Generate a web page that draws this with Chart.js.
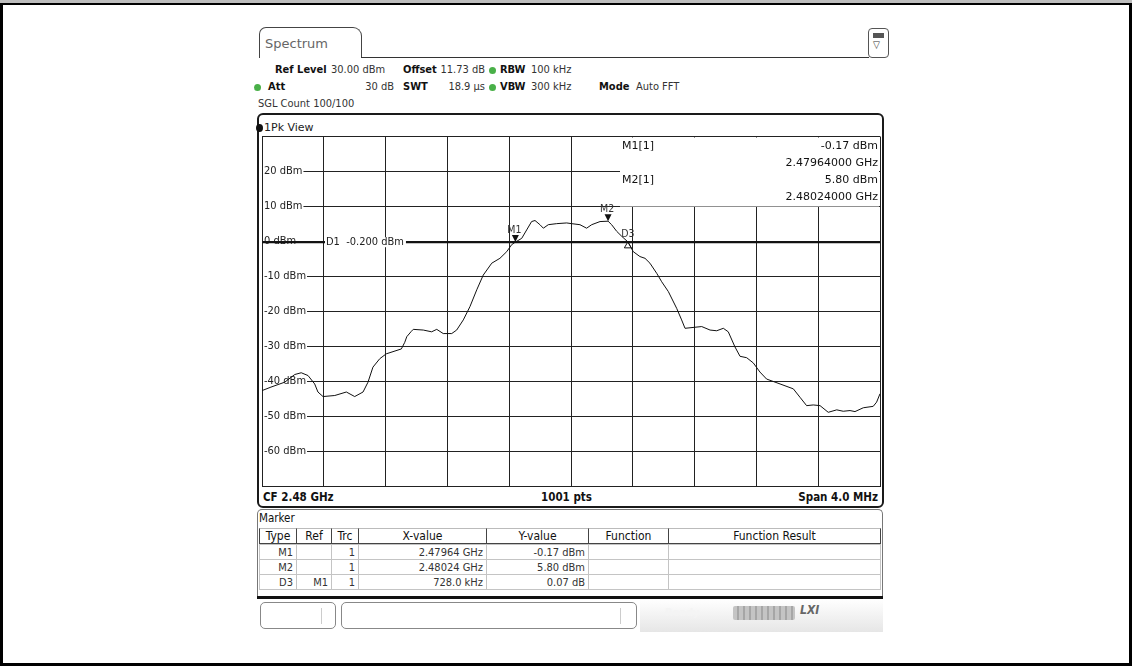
<!DOCTYPE html>
<html>
<head>
<meta charset="utf-8">
<script src="https://cdn.jsdelivr.net/npm/chart.js@4.4.1/dist/chart.umd.min.js"></script>
<style>
  html, body { margin: 0; padding: 0; background: #fff; }
  body {
    width: 1132px; height: 666px; position: relative; overflow: hidden;
    font-family: "DejaVu Sans Condensed", "DejaVu Sans", sans-serif;
    font-stretch: condensed; color: #222;
  }
  .abs { position: absolute; white-space: nowrap; }
  .b { font-weight: bold; color: #111; }
  .hdr { font-size: 11px; line-height: 14px; color: #333; }
  .dot { position: absolute; width: 7px; height: 7px; border-radius: 50%; background: #49b048; }
  .cell { position: absolute; box-sizing: border-box; font-size: 11px; line-height: 15px; overflow: hidden; }
  #chart { position: absolute; left: 0; top: 0; z-index: 2; }
</style>
</head>
<body>
<!-- outer frame -->
<div class="abs" style="left:0;top:0;width:1132px;height:3px;background:#bdbdbd"></div>
<div class="abs" style="left:0;top:3px;width:1132px;height:663px;box-sizing:border-box;border:3px solid #000;border-top:2px solid #000"></div>

<!-- tab -->
<div class="abs" style="left:259px;top:27px;width:103px;height:31px;box-sizing:border-box;border:1px solid #444;border-bottom:none;border-radius:7px 9px 0 0"></div>
<div class="abs" style="left:265px;top:36px;font-family:'DejaVu Sans';font-stretch:normal;font-size:13px;color:#666">Spectrum</div>
<div class="abs" style="left:361px;top:57px;width:508px;height:1px;background:#333"></div>
<div class="abs" style="left:868px;top:28px;width:21px;height:30px;box-sizing:border-box;border:1px solid #555;border-radius:4px"></div>
<div class="abs" style="left:873px;top:33px;width:11px;height:5px;background:#555"></div>
<div class="abs" style="left:873px;top:39px;font-size:10px;color:#333;font-family:'DejaVu Sans'">&#9661;</div>

<!-- header settings -->
<div id="header"></div>

<!-- diagram panel -->
<div class="abs" style="left:257px;top:113px;width:627px;height:395px;box-sizing:border-box;border:2px solid #1a1a1a;border-radius:6px"></div>
<div class="abs" style="left:256px;top:124px;width:7px;height:8px;border-radius:50%;background:#111"></div>
<div class="abs" style="left:264px;top:121px;font-family:'DejaVu Sans';font-stretch:normal;font-size:11px;line-height:14px;color:#222">1Pk View</div>
<div class="abs b" style="left:263px;top:490px;font-size:11.5px;line-height:15px">CF 2.48 GHz</div>
<div class="abs b" style="left:541px;top:490px;font-size:11.5px;line-height:15px">1001 pts</div>
<div class="abs b" style="right:254px;top:490px;font-size:11.5px;line-height:15px">Span 4.0 MHz</div>

<!-- marker table panel -->
<div class="abs" style="left:257px;top:509px;width:626px;height:89px;box-sizing:border-box;border:1px solid #777;border-bottom:none;border-radius:5px 5px 0 0"></div>
<div class="abs" style="left:257px;top:596px;width:626px;height:3px;background:#111"></div>
<div class="abs" style="left:259px;top:511px;font-size:11.5px;line-height:14px;color:#111">Marker</div>
<div id="table"></div>

<!-- status bar -->
<div class="abs" style="left:260px;top:602px;width:76px;height:27px;box-sizing:border-box;border:1px solid #888;border-radius:5px"></div>
<div class="abs" style="left:321px;top:608px;width:1px;height:16px;background:#ccc"></div>
<div class="abs" style="left:341px;top:602px;width:296px;height:27px;box-sizing:border-box;border:1px solid #888;border-radius:5px"></div>
<div class="abs" style="left:620px;top:608px;width:1px;height:16px;background:#ccc"></div>
<div class="abs" style="left:640px;top:599px;width:243px;height:33px;background:linear-gradient(#ffffff,#e6e6e6)"></div>
<div class="abs" style="left:665px;top:606px;font-size:11px;font-weight:bold;color:#f4f4f4">Ready</div>
<div class="abs" style="left:733px;top:606px;width:62px;height:14px;background:repeating-linear-gradient(90deg,#c4c4c4 0 4px,#a6a6a6 4px 6px);border-radius:2px"></div>
<div class="abs" style="left:800px;top:603px;font-size:12px;font-weight:bold;font-style:italic;color:#666">LXI</div>

<canvas id="chart" width="1132" height="666"></canvas>

<script>
// trace 1, peak detector (frequency in MHz, level in dBm)
const freqMHz = [
  2478.000, 2478.058, 2478.147, 2478.212, 2478.254, 2478.298, 2478.341, 2478.362,
  2478.395, 2478.471, 2478.546, 2478.600, 2478.654, 2478.686, 2478.718, 2478.762,
  2478.804, 2478.902, 2478.924, 2478.937, 2478.966, 2478.979, 2479.044, 2479.098,
  2479.131, 2479.173, 2479.228, 2479.260, 2479.303, 2479.346, 2479.390, 2479.432,
  2479.487, 2479.540, 2479.584, 2479.616, 2479.640, 2479.681, 2479.713, 2479.745,
  2479.767, 2479.799, 2479.821, 2479.853, 2479.907, 2479.972, 2480.004, 2480.058,
  2480.101, 2480.134, 2480.188, 2480.240, 2480.263, 2480.296, 2480.328, 2480.368,
  2480.403, 2480.446, 2480.479, 2480.511, 2480.555, 2480.587, 2480.630, 2480.684,
  2480.716, 2480.738, 2480.802, 2480.846, 2480.900, 2480.943, 2480.986, 2481.018,
  2481.061, 2481.094, 2481.137, 2481.180, 2481.223, 2481.266, 2481.353, 2481.439,
  2481.482, 2481.525, 2481.568, 2481.612, 2481.665, 2481.720, 2481.762, 2481.806,
  2481.838, 2481.892, 2481.956, 2481.978, 2482.000
];
const levelDbm = [
  -42.6, -41.6, -40.2, -38.0, -37.5, -38.3, -40.7, -43.0,
  -44.3, -44.0, -43.0, -44.3, -43.0, -40.2, -35.9, -33.5,
  -32.1, -30.7, -28.8, -27.2, -25.7, -25.1, -25.3, -25.8,
  -25.1, -26.3, -26.3, -25.3, -22.4, -18.6, -13.8, -9.6,
  -6.2, -4.8, -2.9, -0.9, -0.17, 0.9, 3.3, 5.7,
  6.0, 4.8, 3.8, 4.8, 5.1, 5.3, 5.1, 4.8,
  3.8, 4.8, 5.7, 5.8, 4.8, 2.9, 1.5, -0.10,
  -2.9, -4.3, -4.8, -6.2, -9.1, -11.5, -14.3, -19.1,
  -22.4, -24.8, -24.5, -24.3, -25.3, -25.5, -24.8, -25.8,
  -30.1, -32.8, -33.2, -34.7, -37.3, -39.3, -40.7, -42.1,
  -44.5, -46.9, -46.7, -46.9, -48.8, -48.1, -48.5, -48.3,
  -48.6, -47.5, -47.1, -45.9, -43.5
];

// grid
const xGridMHz = [2478.0, 2478.4, 2478.8, 2479.2, 2479.6, 2480.0, 2480.4, 2480.8, 2481.2, 2481.6, 2482.0];
const yGridDbm = [30, 20, 10, 0, -10, -20, -30, -40, -50, -60, -70];
const yLabelDbm = [20, 10, 0, -10, -20, -30, -40, -50, -60];
const displayLineD1 = -0.2;

// markers
const markerNames = ["M1", "M2", "D3"];
const markerFreqMHz = [2479.64, 2480.24, 2480.368];
const markerLevel = [-0.17, 5.80, -0.10];

// marker table
const tableHeaders = ["Type", "Ref", "Trc", "X-value", "Y-value", "Function", "Function Result"];
const tableType = ["M1", "M2", "D3"];
const tableRef = ["", "", "M1"];
const tableTrc = ["1", "1", "1"];
const tableX = ["2.47964 GHz", "2.48024 GHz", "728.0 kHz"];
const tableY = ["-0.17 dBm", "5.80 dBm", "0.07 dB"];

// header settings rows
const header = document.getElementById("header");
const put = (html, style) => {
  const d = document.createElement("div");
  d.className = "abs hdr";
  d.setAttribute("style", style);
  d.innerHTML = html;
  header.appendChild(d);
};
put('<span class="b">Ref Level</span>', "left:275px;top:63px");
put("30.00 dBm", "left:331px;top:63px");
put('<span class="b">Offset</span>', "left:403px;top:63px");
put("11.73 dB", "right:647px;top:63px");
put('<span class="b">RBW</span>', "left:500px;top:63px");
put("100 kHz", "left:531px;top:63px");
put('<span class="b">Att</span>', "left:268px;top:80px");
put("30 dB", "right:738px;top:80px");
put('<span class="b">SWT</span>', "left:403px;top:80px");
put("18.9 \u00b5s", "right:647px;top:80px");
put('<span class="b">VBW</span>', "left:500px;top:80px");
put("300 kHz", "left:531px;top:80px");
put('<span class="b">Mode</span>', "left:599px;top:80px");
put("Auto FFT", "left:636px;top:80px");
put("SGL Count 100/100", "left:258px;top:97px");
[[489, 67], [254, 84], [489, 84]].forEach(p => {
  const d = document.createElement("div");
  d.className = "dot";
  d.style.left = p[0] + "px";
  d.style.top = p[1] + "px";
  header.appendChild(d);
});

// marker table
const colEdges = [259, 296, 331, 358, 486, 588, 668, 880];
const table = document.getElementById("table");
const cell = (text, c, top, h, isHead) => {
  const d = document.createElement("div");
  d.className = "cell";
  d.style.left = colEdges[c] + "px";
  d.style.top = top + "px";
  d.style.width = (colEdges[c + 1] - colEdges[c] + 1) + "px";
  d.style.height = (h + 1) + "px";
  if (isHead) {
    d.style.border = "1px solid #444";
    d.style.borderTopColor = "#bbb";
    d.style.textAlign = "center";
    d.style.color = "#111";
    d.style.fontSize = "12px";
  } else {
    d.style.border = "1px solid #c4c4c4";
    d.style.textAlign = "right";
    d.style.paddingRight = "3px";
    d.style.color = "#333";
  }
  d.textContent = text;
  table.appendChild(d);
};
tableHeaders.forEach((t, c) => cell(t, c, 528, 15, true));
tableType.forEach((t, r) => {
  const row = [t, tableRef[r], tableTrc[r], tableX[r], tableY[r], "", ""];
  row.forEach((v, c) => cell(v, c, 544 + r * 15, 15, false));
});

// chart
const FONT = '"DejaVu Sans Condensed", "DejaVu Sans", sans-serif';
const infoLeftMHz = 2480.317;

const instrumentPlugin = {
  id: "instrument",
  beforeDatasetsDraw(chart) {
    const { ctx, chartArea: a, scales: { x, y } } = chart;
    ctx.save();
    // marker info area hides the upper right grid
    const bx = Math.round(x.getPixelForValue(infoLeftMHz));
    ctx.fillStyle = "#fff";
    ctx.fillRect(bx, a.top + 1, a.right - bx - 1, y.getPixelForValue(10) - a.top - 1);
    // level labels sit on the left end of the grid lines
    ctx.font = "11px " + FONT;
    ctx.textBaseline = "middle";
    yLabelDbm.forEach(v => {
      const py = y.getPixelForValue(v);
      const label = v + " dBm";
      const w = ctx.measureText(label).width;
      if (v !== 0) {
        ctx.fillStyle = "#fff";
        ctx.fillRect(a.left + 1, py - 2, w + 2, 4);
      }
      ctx.fillStyle = "#222";
      ctx.fillText(label, a.left + 2, py);
    });
    // display line D1
    const dy = y.getPixelForValue(displayLineD1);
    ctx.strokeStyle = "#111";
    ctx.lineWidth = 2;
    ctx.beginPath();
    ctx.moveTo(a.left, dy);
    ctx.lineTo(a.right, dy);
    ctx.stroke();
    const d1 = "D1  " + displayLineD1.toFixed(3) + " dBm";
    const dw = ctx.measureText(d1).width;
    ctx.fillStyle = "#fff";
    ctx.fillRect(a.left + 63, dy - 5, dw + 3, 10);
    ctx.fillStyle = "#222";
    ctx.fillText(d1, a.left + 64, dy);
    // marker readout
    ctx.font = "11px \"DejaVu Sans\", sans-serif";
    ctx.fillStyle = "#111";
    const lx = bx + 2;
    [0, 1].forEach(i => {
      const top = a.top + 10 + i * 34;
      ctx.textAlign = "left";
      ctx.fillText(markerNames[i] + "[1]", lx, top);
      ctx.textAlign = "right";
      ctx.fillText(markerLevel[i].toFixed(2) + " dBm", a.right - 2, top);
      ctx.fillText((markerFreqMHz[i] / 1000).toFixed(8) + " GHz", a.right - 2, top + 17);
    });
    ctx.restore();
  },
  afterDatasetsDraw(chart) {
    const { ctx, scales: { x, y } } = chart;
    ctx.save();
    ctx.font = "10.5px " + FONT;
    ctx.textAlign = "center";
    ctx.textBaseline = "alphabetic";
    markerNames.forEach((name, i) => {
      const px = x.getPixelForValue(markerFreqMHz[i]);
      const py = y.getPixelForValue(markerLevel[i]);
      ctx.fillStyle = "#111";
      ctx.strokeStyle = "#111";
      ctx.lineWidth = 1;
      if (name.startsWith("D")) {
        // delta marker: open triangle under the trace point
        ctx.beginPath();
        ctx.moveTo(px, py);
        ctx.lineTo(px - 3.5, py + 6);
        ctx.lineTo(px + 3.5, py + 6);
        ctx.closePath();
        ctx.stroke();
        ctx.fillStyle = "#333";
        ctx.fillText(name, px, py - 5);
      } else {
        ctx.beginPath();
        ctx.moveTo(px, py);
        ctx.lineTo(px - 3.5, py - 7);
        ctx.lineTo(px + 3.5, py - 7);
        ctx.closePath();
        ctx.fill();
        ctx.fillStyle = "#333";
        ctx.fillText(name, px - 1, py - 9);
      }
    });
    ctx.restore();
  }
};

const gridStyle = { color: "#222", lineWidth: 1, drawTicks: false };

new Chart(document.getElementById("chart"), {
  type: "line",
  data: {
    datasets: [{
      data: freqMHz.map((f, i) => ({ x: f, y: levelDbm[i] })),
      borderColor: "#111",
      borderWidth: 1,
      pointRadius: 0,
      tension: 0,
      fill: false
    }]
  },
  options: {
    responsive: false,
    animation: false,
    devicePixelRatio: 1,
    layout: { padding: { left: 262, top: 136.5, right: 252, bottom: 179.5 } },
    plugins: { legend: { display: false }, tooltip: { enabled: false } },
    scales: {
      x: {
        type: "linear", min: 2478, max: 2482,
        afterBuildTicks: s => { s.ticks = xGridMHz.map(v => ({ value: v })); },
        ticks: { display: false },
        grid: gridStyle,
        border: { display: false }
      },
      y: {
        min: -70, max: 30,
        afterBuildTicks: s => { s.ticks = yGridDbm.map(v => ({ value: v })); },
        ticks: { display: false },
        grid: gridStyle,
        border: { display: false }
      }
    }
  },
  plugins: [instrumentPlugin]
});
</script>
</body>
</html>
